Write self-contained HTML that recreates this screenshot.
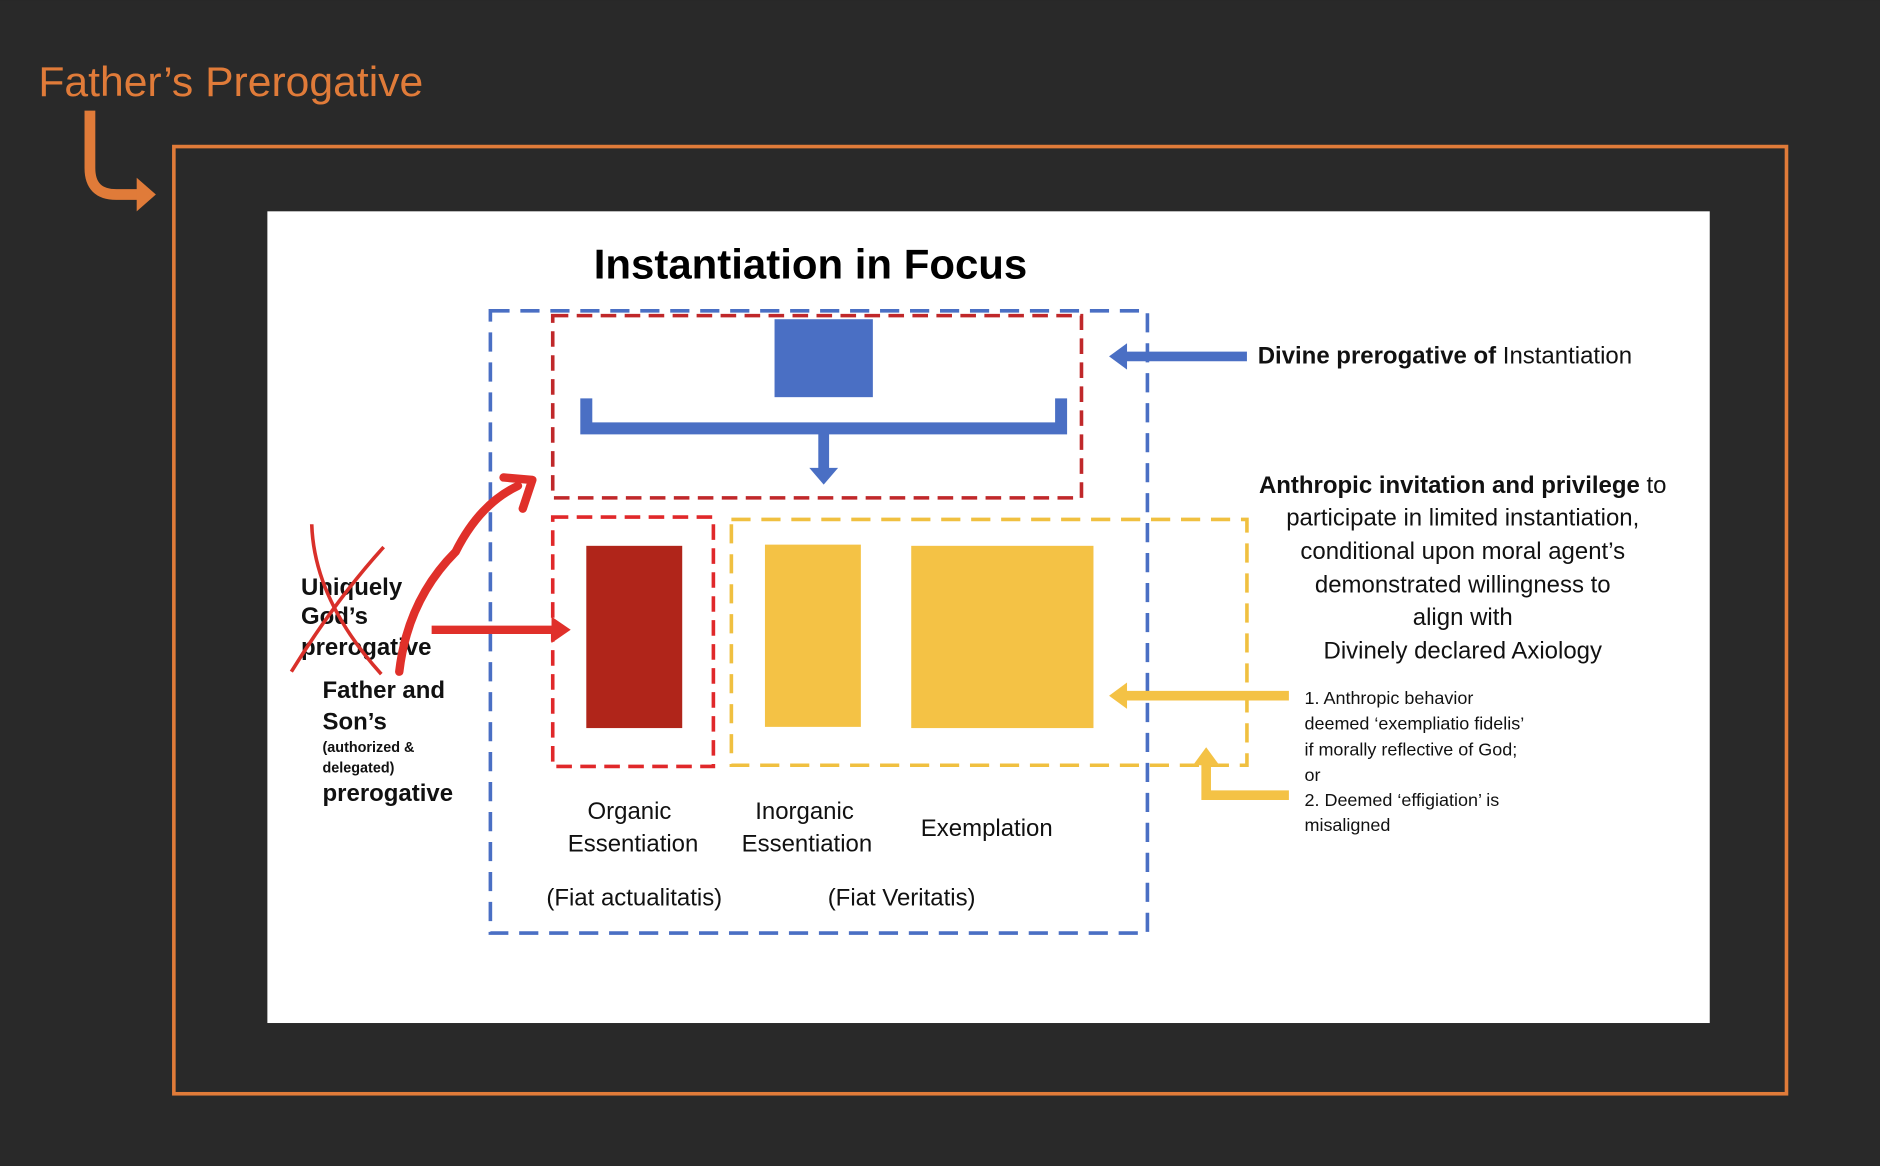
<!DOCTYPE html>
<html><head><meta charset="utf-8"><style>html,body{margin:0;padding:0;background:#292929;}svg{display:block}</style></head>
<body>
<svg width="1880" height="1166" viewBox="0 0 1568 972" xmlns="http://www.w3.org/2000/svg" font-family="Liberation Sans, sans-serif">
<rect width="1568" height="972" fill="#292929"/>
<text x="32" y="80" font-size="35" fill="#e07b39" textLength="321" lengthAdjust="spacingAndGlyphs">Father’s Prerogative</text>
<path d="M75,92 V140 Q75,162 97,162 H116" fill="none" stroke="#e07b39" stroke-width="9"/>
<path d="M114,148 L130,162 L114,176 z" fill="#e07b39"/>
<rect x="145" y="122" width="1345" height="790" fill="none" stroke="#e07b39" stroke-width="3"/>
<rect x="223" y="176" width="1203" height="677" fill="#fff"/>
<text x="676" y="232" font-size="35" font-weight="bold" text-anchor="middle" fill="#000">Instantiation in Focus</text>
<rect x="409" y="259" width="548" height="519" fill="none" stroke="#4a6fc4" stroke-width="3" stroke-dasharray="16 9"/>
<rect x="461" y="263" width="441" height="152" fill="none" stroke="#c0282a" stroke-width="3" stroke-dasharray="13 7"/>
<rect x="646" y="266" width="82" height="65" fill="#4a6fc4"/>
<path d="M489,332 V357 H885 V332" fill="none" stroke="#4a6fc4" stroke-width="10"/>
<path d="M687,357 V392" stroke="#4a6fc4" stroke-width="9"/>
<path d="M675,390 L687,404 L699,390 z" fill="#4a6fc4"/>
<rect x="461" y="431" width="134" height="208" fill="none" stroke="#e0282a" stroke-width="3" stroke-dasharray="13 7"/>
<rect x="489" y="455" width="80" height="152" fill="#b0251a"/>
<rect x="610" y="433" width="430" height="205" fill="none" stroke="#f0c040" stroke-width="3" stroke-dasharray="16 9"/>
<rect x="638" y="454" width="80" height="152" fill="#f4c245"/>
<rect x="760" y="455" width="152" height="152" fill="#f4c245"/>
<g font-size="20" fill="#111" text-anchor="middle">
<text x="525" y="683">Organic</text><text x="528" y="710">Essentiation</text>
<text x="671" y="683">Inorganic</text><text x="673" y="710">Essentiation</text>
<text x="823" y="697">Exemplation</text>
<text x="529" y="755">(Fiat actualitatis)</text><text x="752" y="755">(Fiat Veritatis)</text>
</g>
<path d="M1040,297 H938" stroke="#4a6fc4" stroke-width="8"/>
<path d="M940,286 L925,297 L940,308 z" fill="#4a6fc4"/>
<text x="1049" y="303" font-size="20" fill="#111"><tspan font-weight="bold">Divine prerogative of</tspan> Instantiation</text>
<g font-size="20" fill="#111" text-anchor="middle">
<text x="1220" y="411"><tspan font-weight="bold">Anthropic invitation and privilege</tspan> to</text>
<text x="1220" y="438">participate in limited instantiation,</text>
<text x="1220" y="466">conditional upon moral agent’s</text>
<text x="1220" y="494">demonstrated willingness to</text>
<text x="1220" y="521">align with</text>
<text x="1220" y="549">Divinely declared Axiology</text>
</g>
<path d="M1075,580 H938" stroke="#f4c245" stroke-width="8"/>
<path d="M940,569 L925,580 L940,591 z" fill="#f4c245"/>
<path d="M1075,663 H1006 V636" fill="none" stroke="#f4c245" stroke-width="8"/>
<path d="M995,638 L1006,623 L1017,638 z" fill="#f4c245"/>
<g font-size="15" fill="#111">
<text x="1088" y="587">1. Anthropic behavior</text>
<text x="1088" y="608">deemed ‘exempliatio fidelis’</text>
<text x="1088" y="630">if morally reflective of God;</text>
<text x="1088" y="651">or</text>
<text x="1088" y="672">2. Deemed ‘effigiation’ is</text>
<text x="1088" y="693">misaligned</text>
</g>
<g font-size="20" font-weight="bold" fill="#111">
<text x="251" y="496">Uniquely</text><text x="251" y="520">God’s</text><text x="251" y="546">prerogative</text>
<text x="269" y="582">Father and</text><text x="269" y="608">Son’s</text>
<text x="269" y="668">prerogative</text>
</g>
<g font-size="12" font-weight="bold" fill="#111"><text x="269" y="627">(authorized &amp;</text><text x="269" y="644">delegated)</text></g>
<path d="M260,437 Q262,500 318,562" fill="none" stroke="#d9302a" stroke-width="3"/>
<path d="M320,456 Q280,500 243,560" fill="none" stroke="#d9302a" stroke-width="3"/>
<path d="M333,560 Q340,500 380,460 Q400,420 432,405" fill="none" stroke="#e0302a" stroke-width="7" stroke-linecap="round"/>
<path d="M420,398 L444,400 L436,424" fill="none" stroke="#e0302a" stroke-width="7" stroke-linecap="round" stroke-linejoin="round"/>
<path d="M360,525 H462" stroke="#e0302a" stroke-width="7"/>
<path d="M460,514 L476,525 L460,536 z" fill="#e0302a"/>
</svg>
</body></html>
